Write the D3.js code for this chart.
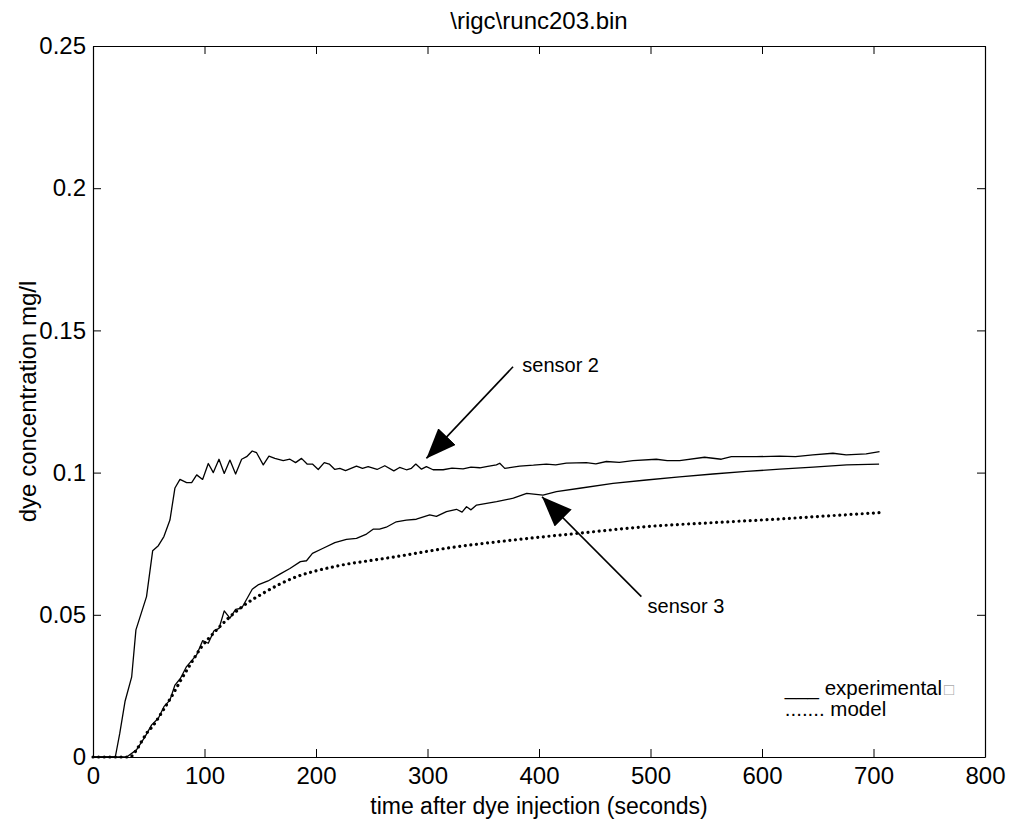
<!DOCTYPE html>
<html>
<head>
<meta charset="utf-8">
<script src="https://cdn.jsdelivr.net/npm/d3@7"></script>
<style>
  html, body { margin: 0; padding: 0; background: #fff; }
  svg { display: block; }
  text { font-family: "Liberation Sans", Arial, Helvetica, sans-serif; fill: #000; }
</style>
</head>
<body>
<svg id="chart" width="1013" height="822"></svg>
<script>
// ---------------- data ----------------
const chartTitle = "\\rigc\\runc203.bin";
const xAxisTitle = "time after dye injection (seconds)";
const yAxisTitle = "dye concentration mg/l";

const xTicks = [0, 100, 200, 300, 400, 500, 600, 700, 800];
const yTicks = [0, 0.05, 0.1, 0.15, 0.2, 0.25];
const yTickLabels = ["0", "0.05", "0.1", "0.15", "0.2", "0.25"];

// sensor 2 (experimental)
const sensor2Time = [0, 10, 20, 24, 28.7, 34.7, 38.5, 48, 53.5, 58.6, 63.6, 69, 73.5, 78, 84, 88.5, 93, 98.3,
  103.4, 107.9, 113, 117.7, 122.8, 127.9, 133.3, 137.8, 142.8, 146.7, 152.7, 157.8, 163.1, 170.6, 176.6, 181.7,
  187, 192, 196.8, 202, 207.4, 211.9, 216.9, 221.4, 226.5, 236.3, 241.7, 246.8, 254.8, 261.7, 269.8, 275, 281.1,
  285.6, 289.5, 294.6, 299, 305, 314, 322, 331.9, 339, 346.9, 354, 361.8, 364.8, 369.3, 382.7, 395, 406.6, 415,
  424.5, 442.4, 451, 460.4, 472, 484.3, 505.2, 515, 526.1, 548.5, 563.5, 572.5, 595, 615.8, 630, 645.6, 663.6,
  675.5, 693.4, 705.4];
const sensor2Values = [0, 0, 0, 0.0083, 0.0195, 0.0282, 0.0447, 0.0564, 0.0725, 0.0743, 0.0775, 0.0833, 0.0946,
  0.0976, 0.0965, 0.0965, 0.0992, 0.0976, 0.1032, 0.1000, 0.1047, 0.0997, 0.1044, 0.0995, 0.1047, 0.1056, 0.1076,
  0.1070, 0.1027, 0.1058, 0.1050, 0.1042, 0.1047, 0.1035, 0.1050, 0.1030, 0.1030, 0.1011, 0.1035, 0.1030, 0.1011,
  0.1015, 0.1007, 0.1023, 0.1015, 0.1021, 0.1011, 0.1024, 0.1006, 0.1018, 0.1010, 0.1015, 0.1030, 0.1012, 0.1021,
  0.1010, 0.1010, 0.1016, 0.1013, 0.1019, 0.1017, 0.1022, 0.1027, 0.1033, 0.1015, 0.1023, 0.1026, 0.1030, 0.1027,
  0.1033, 0.1035, 0.1031, 0.1039, 0.1036, 0.1042, 0.1047, 0.1042, 0.1042, 0.1054, 0.1047, 0.1056, 0.1056, 0.1058,
  0.1056, 0.1062, 0.1068, 0.1062, 0.1066, 0.1074];

// sensor 3 (experimental)
const sensor3Time = [0, 10, 20, 30.2, 39, 46.6, 52.6, 58.6, 63.6, 69, 73.5, 78.5, 83.9, 92.9, 98.3, 103.4, 108.5,
  113, 117.7, 122.8, 127.9, 133.3, 142.8, 148, 157, 167.6, 176.6, 186, 191.5, 196.8, 206.4, 216.9, 227.3, 236.3,
  245.3, 251.2, 257, 263, 272, 281, 290, 302, 308, 317, 326, 331, 335, 339, 344, 362, 377, 389, 403.6, 415.6,
  436.5, 466.4, 496.3, 526, 556, 586, 616, 646, 676, 705];
const sensor3Values = [0, 0, 0, 0, 0.0025, 0.0071, 0.0113, 0.0136, 0.0177, 0.0200, 0.0253, 0.0277, 0.0318, 0.0359,
  0.0409, 0.0400, 0.0444, 0.0452, 0.0514, 0.0488, 0.0519, 0.0523, 0.0590, 0.0605, 0.0619, 0.0643, 0.0663, 0.0687,
  0.0690, 0.0716, 0.0734, 0.0754, 0.0765, 0.0769, 0.0784, 0.0801, 0.0801, 0.0808, 0.0827, 0.0833, 0.0836, 0.0851,
  0.0846, 0.0863, 0.0871, 0.0861, 0.0880, 0.0869, 0.0886, 0.0898, 0.0910, 0.0927, 0.0921, 0.0933, 0.0945, 0.0962,
  0.0974, 0.0985, 0.0995, 0.1004, 0.1012, 0.1019, 0.1027, 0.1030];

// model (dotted)
const modelTime = [0, 20, 33, 39, 43.5, 48, 53.5, 63, 73, 78, 87.8, 97.5, 108, 122.8, 137.8, 152.7, 167.6, 182.6,
  197.5, 212.4, 227.3, 242.2, 266.2, 317, 377, 436.5, 496, 556, 616, 660, 705];
const modelValues = [0, 0, 0, 0.0025, 0.0054, 0.0083, 0.0108, 0.0165, 0.0230, 0.0265, 0.0329, 0.0388, 0.0435,
  0.0493, 0.0540, 0.0576, 0.0608, 0.0634, 0.0652, 0.0666, 0.0678, 0.0687, 0.0701, 0.0734, 0.0763, 0.0787, 0.0810,
  0.0824, 0.0837, 0.0848, 0.0859];

// annotations (data coordinates)
const annotationLabels = ["sensor 2", "sensor 3"];
const annotationText = [[385, 0.1353], [497.4, 0.0507]];
const annotationTail = [[376.7, 0.1372], [491.8, 0.0564]];
const annotationTip = [[299, 0.1050], [402.7, 0.0915]];

const legendLabels = ["___ experimental", "....... model"];

// ---------------- layout ----------------
const svg = d3.select("#chart");
const W = 1013, H = 822;
const margin = { left: 93, right: W - 985, top: 46, bottom: H - 757 };
const x = d3.scaleLinear().domain([0, 800]).range([margin.left, W - margin.right]);
const y = d3.scaleLinear().domain([0, 0.25]).range([H - margin.bottom, margin.top]);

svg.append("rect").attr("width", W).attr("height", H).attr("fill", "#fff");

const fs = 24;
function styleAxis(g) {
  g.selectAll("path.domain").attr("stroke", "#000").attr("stroke-width", 1.2);
  g.selectAll(".tick line").attr("stroke", "#000").attr("stroke-width", 1);
  g.selectAll(".tick text").style("font-size", fs + "px").attr("fill", "#000")
    .style("font-family", '"Liberation Sans", Arial, Helvetica, sans-serif');
}

svg.append("g").attr("transform", `translate(0,${y(0)})`)
  .call(d3.axisBottom(x).tickValues(xTicks).tickFormat(d3.format("d")).tickSize(-8).tickSizeOuter(0).tickPadding(10))
  .call(styleAxis);
svg.append("g").attr("transform", `translate(0,${y(0.25)})`)
  .call(d3.axisTop(x).tickValues(xTicks).tickFormat("").tickSize(-8).tickSizeOuter(0))
  .call(styleAxis);
svg.append("g").attr("transform", `translate(${x(0)},0)`)
  .call(d3.axisLeft(y).tickValues(yTicks).tickFormat((d, i) => yTickLabels[i]).tickSize(-8).tickSizeOuter(0).tickPadding(7))
  .call(styleAxis);
svg.append("g").attr("transform", `translate(${x(800)},0)`)
  .call(d3.axisRight(y).tickValues(yTicks).tickFormat("").tickSize(-8).tickSizeOuter(0))
  .call(styleAxis);

// titles
svg.append("text").attr("x", (x(0) + x(800)) / 2).attr("y", 29).attr("text-anchor", "middle")
  .style("font-size", fs + "px").text(chartTitle);
svg.append("text").attr("x", (x(0) + x(800)) / 2).attr("y", 814).attr("text-anchor", "middle")
  .style("font-size", "23px").text(xAxisTitle);
svg.append("text").attr("transform", `translate(36,${(y(0) + y(0.25)) / 2}) rotate(-90)`).attr("text-anchor", "middle")
  .style("font-size", fs + "px").text(yAxisTitle);

// lines
const line = d3.line().x(d => x(d[0])).y(d => y(d[1]));
const zip = (a, b) => a.map((t, i) => [t, b[i]]);

svg.append("path").datum(zip(sensor2Time, sensor2Values)).attr("d", line)
  .attr("fill", "none").attr("stroke", "#000").attr("stroke-width", 1.3).attr("stroke-linejoin", "round");
svg.append("path").datum(zip(sensor3Time, sensor3Values)).attr("d", line)
  .attr("fill", "none").attr("stroke", "#000").attr("stroke-width", 1.3).attr("stroke-linejoin", "round");
svg.append("path").datum(zip(modelTime, modelValues))
  .attr("d", d3.line().x(d => x(d[0])).y(d => y(d[1])).curve(d3.curveMonotoneX))
  .attr("fill", "none").attr("stroke", "#000").attr("stroke-width", 3.2)
  .attr("stroke-linecap", "round").attr("stroke-dasharray", "0.01 5.6");

// annotations
const defs = svg.append("defs");
defs.append("marker").attr("id", "arrowhead").attr("viewBox", "0 0 30 24")
  .attr("refX", 30).attr("refY", 12).attr("markerWidth", 30).attr("markerHeight", 24)
  .attr("markerUnits", "userSpaceOnUse").attr("orient", "auto")
  .append("path").attr("d", "M0,0 L30,12 L0,24 Z").attr("fill", "#000");

annotationLabels.forEach((lab, i) => {
  svg.append("line")
    .attr("x1", x(annotationTail[i][0])).attr("y1", y(annotationTail[i][1]))
    .attr("x2", x(annotationTip[i][0])).attr("y2", y(annotationTip[i][1]))
    .attr("stroke", "#000").attr("stroke-width", 1.6).attr("marker-end", "url(#arrowhead)");
  svg.append("text").attr("x", x(annotationText[i][0])).attr("y", y(annotationText[i][1]))
    .style("font-size", "20px").text(lab);
});

// legend
const lg = svg.append("g").attr("transform", `translate(${x(620) + 0.5},0)`);
const t1 = lg.append("text").attr("x", 0).attr("y", 695).style("font-size", "20.5px");
t1.append("tspan").text(legendLabels[0]);
t1.append("tspan").attr("dx", 2).attr("fill", "#aaa").style("font-size", "17px").text("\u25A1");
lg.append("text").attr("x", 0).attr("y", 716).style("font-size", "20.5px").text(legendLabels[1]);
</script>
</body>
</html>
